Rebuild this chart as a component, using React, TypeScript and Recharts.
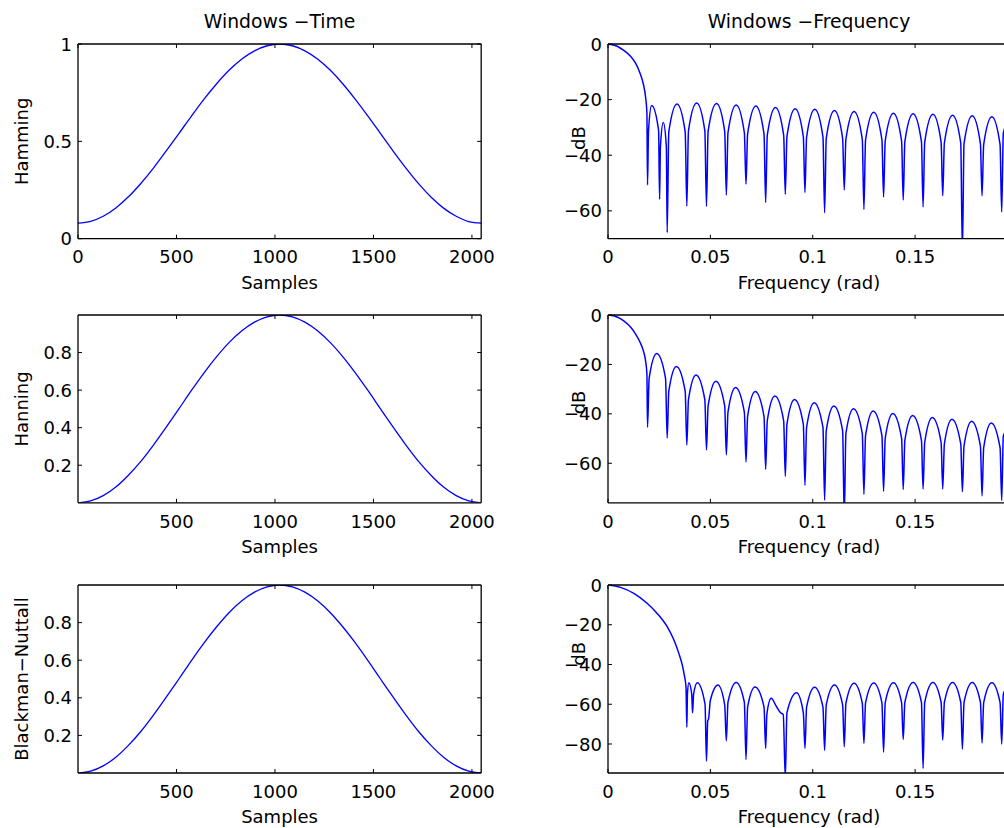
import { LineChart, Line, XAxis, YAxis } from 'recharts';

// ---- time-domain windows (read from the left column) ----
const samples = [
  0, 64, 128, 192, 256, 320, 384, 448, 512, 576, 640, 704, 768, 832, 896, 960, 1024,
  1088, 1152, 1216, 1280, 1344, 1408, 1472, 1536, 1600, 1664, 1728, 1792, 1856, 1920, 1984, 2047,
];
const hamming = [
  0.08, 0.089, 0.115, 0.158, 0.215, 0.285, 0.364, 0.451, 0.54, 0.63, 0.717, 0.796, 0.866, 0.923, 0.965, 0.991, 1.0,
  0.991, 0.965, 0.923, 0.866, 0.796, 0.716, 0.63, 0.54, 0.45, 0.364, 0.284, 0.214, 0.157, 0.115, 0.088, 0.08,
];
const hanning = [
  0, 0.01, 0.038, 0.084, 0.147, 0.222, 0.309, 0.403, 0.5, 0.598, 0.692, 0.778, 0.854, 0.916, 0.962, 0.99, 1.0,
  0.99, 0.962, 0.916, 0.854, 0.778, 0.692, 0.598, 0.5, 0.403, 0.309, 0.222, 0.147, 0.084, 0.038, 0.01, 0,
];
const blackmanNuttall = [
  0, 0.01, 0.038, 0.084, 0.147, 0.222, 0.309, 0.403, 0.5, 0.598, 0.692, 0.778, 0.854, 0.916, 0.962, 0.99, 1.0,
  0.99, 0.962, 0.916, 0.854, 0.778, 0.692, 0.598, 0.5, 0.403, 0.309, 0.222, 0.147, 0.084, 0.038, 0.01, 0,
];

// ---- frequency responses in dB (read from the right column) ----
const hammingFreq = [
  0, 0.0045, 0.0077, 0.011, 0.0134, 0.0156, 0.0172, 0.0183, 0.019, 0.0193,
  0.0198, 0.0213, 0.0247, 0.0252, 0.0256, 0.027, 0.0285, 0.0289,
  0.0297, 0.0337, 0.0377, 0.0385, 0.0393, 0.0433, 0.0473, 0.0481,
  0.0489, 0.053, 0.057, 0.0578, 0.0586, 0.0626, 0.0666, 0.0674,
  0.0682, 0.0722, 0.0762, 0.077, 0.0778, 0.0818, 0.0858, 0.0866,
  0.0874, 0.0914, 0.0954, 0.0962, 0.097, 0.101, 0.105, 0.1058,
  0.1066, 0.1106, 0.1146, 0.1154, 0.1162, 0.1202, 0.1242, 0.125,
  0.1258, 0.1298, 0.1338, 0.1346, 0.1354, 0.1394, 0.1434, 0.1442,
  0.145, 0.149, 0.1531, 0.1539, 0.1547, 0.1587, 0.1627, 0.1635,
  0.1643, 0.1683, 0.1723, 0.1731, 0.1739, 0.1779, 0.1819, 0.1827,
  0.1835, 0.1875, 0.1915, 0.1923, 0.1931, 0.1964,
];
const hammingDb = [
  0, -0.8, -2.3, -4.4, -6.8, -10.4, -14.2, -18.8, -24.7, -50.7,
  -31, -22.1, -31, -55.8, -37, -28.2, -37, -67.8,
  -31.6, -21.6, -31.6, -58.3, -31.2, -21.2, -31.2, -58.4,
  -31.4, -21.4, -31.4, -54.3, -31.9, -21.9, -31.9, -50.4,
  -32.3, -22.3, -32.3, -57.0, -32.8, -22.8, -32.8, -54.0,
  -33.3, -23.3, -33.3, -53.4, -33.5, -23.5, -33.5, -60.7,
  -33.9, -23.9, -33.9, -52.5, -34.3, -24.3, -34.3, -59.5,
  -34.5, -24.5, -34.5, -55.0, -34.9, -24.9, -34.9, -56.1,
  -35.1, -25.1, -35.1, -58.6, -35.3, -25.3, -35.3, -54.6,
  -35.6, -25.6, -35.6, -75, -35.8, -25.8, -35.8, -54.6,
  -36.2, -26.2, -36.2, -60.4, -32, -26.5,
];

const hanningFreq = [
  0, 0.0045, 0.0077, 0.011, 0.0134, 0.0156, 0.0172, 0.0183, 0.019, 0.0193,
  0.0201, 0.0238, 0.0281, 0.0289, 0.0297, 0.0334, 0.0377, 0.0385,
  0.0393, 0.043, 0.0473, 0.0481, 0.0489, 0.0527, 0.057, 0.0578,
  0.0586, 0.0623, 0.0666, 0.0674, 0.0682, 0.0719, 0.0762, 0.077,
  0.0778, 0.0815, 0.0858, 0.0866, 0.0874, 0.0911, 0.0954, 0.0962,
  0.097, 0.1007, 0.105, 0.1058, 0.1066, 0.1103, 0.1146, 0.1154,
  0.1162, 0.1199, 0.1242, 0.125, 0.1258, 0.1295, 0.1338, 0.1346,
  0.1354, 0.1391, 0.1434, 0.1442, 0.145, 0.1488, 0.1531, 0.1539,
  0.1547, 0.1584, 0.1627, 0.1635, 0.1643, 0.168, 0.1723, 0.1731,
  0.1739, 0.1776, 0.1819, 0.1827, 0.1835, 0.1872, 0.1915, 0.1923,
  0.1931, 0.1964,
];
const hanningDb = [
  0, -0.8, -2.4, -4.9, -7.6, -10.9, -14.3, -18.3, -23.7, -45.4,
  -25.6, -15.6, -25.6, -49.8, -30.8, -20.8, -30.8, -52.6,
  -34.3, -24.3, -34.3, -54.6, -36.8, -26.8, -36.8, -56.6,
  -39.3, -29.3, -39.3, -59.5, -41.0, -31.0, -41.0, -62.4,
  -42.8, -32.8, -42.8, -65.3, -44.2, -34.2, -44.2, -68.9,
  -45.5, -35.5, -45.5, -75.0, -46.8, -36.8, -46.8, -82,
  -47.9, -37.9, -47.9, -72.5, -48.8, -38.8, -48.8, -71.3,
  -49.9, -39.9, -49.9, -70.6, -50.7, -40.7, -50.7, -70.4,
  -51.5, -41.5, -51.5, -70.4, -52.2, -42.2, -52.2, -71.5,
  -53.0, -43.0, -53.0, -73.2, -53.7, -43.7, -53.7, -75.1,
  -49, -44.5,
];

const bnFreq = [
  0, 0.0061, 0.0126, 0.0191, 0.024, 0.0289, 0.0322, 0.0346, 0.0363, 0.0374, 0.0381, 0.0385,
  0.0388, 0.0395, 0.0409, 0.0413, 0.0418, 0.0436, 0.0474, 0.0481,
  0.0487, 0.0491, 0.05, 0.0537, 0.057, 0.0578,
  0.0586, 0.0626, 0.0666, 0.0674, 0.0682, 0.0718, 0.0762, 0.077,
  0.0776, 0.0797, 0.0822, 0.0843, 0.0856, 0.0866,
  0.0874, 0.0921, 0.0954, 0.0962, 0.097, 0.1009, 0.105, 0.1058,
  0.1066, 0.1106, 0.1146, 0.1154, 0.1162, 0.1202, 0.1242, 0.125,
  0.1258, 0.1298, 0.1338, 0.1346, 0.1354, 0.1394, 0.1434, 0.1442,
  0.145, 0.149, 0.1531, 0.1539, 0.1547, 0.1587, 0.1627, 0.1635,
  0.1643, 0.1683, 0.1723, 0.1731, 0.1739, 0.1779, 0.1819, 0.1827,
  0.1835, 0.1875, 0.1915, 0.1923, 0.1931, 0.1964,
];
const bnDb = [
  0, -1.2, -4.2, -9.2, -14.3, -21.0, -27.7, -34.4, -40.3, -46.1, -51.2, -71.6,
  -55, -49.2, -55, -64.3, -55, -49.2, -60, -88.6,
  -68.3, -67.5, -58, -50.3, -60.3, -78.4,
  -59.0, -49.0, -59.0, -87.8, -61.3, -51.3, -61.3, -82.2,
  -65, -57.0, -61, -64.3, -65.2, -97,
  -64.2, -54.2, -64.2, -82.2, -61.5, -51.5, -61.5, -83.2,
  -60.3, -50.3, -60.3, -81.4, -59.5, -49.5, -59.5, -79.7,
  -59.3, -49.3, -59.3, -84.1, -59.2, -49.2, -59.2, -77.7,
  -59.0, -49.0, -59.0, -92.3, -59.0, -49.0, -59.0, -78.0,
  -59.0, -49.0, -59.0, -82.6, -59.0, -49.0, -59.0, -79.5,
  -59.2, -49.2, -59.2, -80.0, -55, -49.3,
];

// ---- ticks ----
const sampleTicksFirst = [0, 500, 1000, 1500, 2000];
const sampleTicks = [500, 1000, 1500, 2000];
const freqTicks = [0, 0.05, 0.1, 0.15];
const ampTicksFirst = [0, 0.5, 1];
const ampTicks = [0.2, 0.4, 0.6, 0.8];
const dbTicks = [-60, -40, -20, 0];
const dbTicksDeep = [-80, -60, -40, -20, 0];

const FONT = "'DejaVu Sans', Verdana, sans-serif";
const BLUE = '#0000ff';
const TICK = 4;
const PAD_L = 90;
const PAD_R = 20;
const PAD_T = 40;
const PAD_B = 60;
const AXIS = { stroke: '#000', strokeWidth: 1.3 };
const txt = { fontSize: 18, fontFamily: FONT, fill: '#000' };

const zip = (xs: number[], ys: number[]) => xs.map((x, i) => ({ x, y: ys[i] }));
const fmtNum = (v: number) => (v < 0 ? '\u2212' + String(Math.abs(v)) : String(v));

const bottomTick = (p: any) => (
  <g>
    <line x1={p.x} y1={p.y} x2={p.x} y2={p.y - TICK} stroke="#000" strokeWidth={1} />
    <text x={p.x} y={p.y + 24.8} textAnchor="middle" {...txt}>{fmtNum(p.payload.value)}</text>
  </g>
);
const topTick = (p: any) => (
  <line x1={p.x} y1={p.y} x2={p.x} y2={p.y + TICK} stroke="#000" strokeWidth={1} />
);
const leftTick = (p: any) => (
  <g>
    <line x1={p.x} y1={p.y} x2={p.x + TICK} y2={p.y} stroke="#000" strokeWidth={1} />
    <text x={p.x - 6} y={p.y + 6.6} textAnchor="end" {...txt}>{fmtNum(p.payload.value)}</text>
  </g>
);
const rightTick = (p: any) => (
  <line x1={p.x} y1={p.y} x2={p.x - TICK} y2={p.y} stroke="#000" strokeWidth={1} />
);

interface PanelProps {
  left: number;
  top: number;
  width: number;
  height: number;
  data: { x: number; y: number }[];
  xDomain: [number, number];
  yDomain: [number, number];
  xTicks: number[];
  yTicks: number[];
  xLabel: string;
  yLabel: string;
  yLabelGap: number;
  yLabelAt?: number;
  lineWidth?: number;
  title?: string;
}

const Panel = ({
  left, top, width, height, data, xDomain, yDomain, xTicks, yTicks,
  xLabel, yLabel, yLabelGap, yLabelAt, lineWidth = 1.3, title,
}: PanelProps) => {
  const plotLeft = PAD_L;
  const plotTop = PAD_T;
  const ylx = plotLeft - yLabelGap;
  const yly = yLabelAt !== undefined ? yLabelAt - top + PAD_T : plotTop + height / 2;
  return (
    <div style={{ position: 'absolute', left: left - PAD_L, top: top - PAD_T }}>
      <LineChart
        width={width + PAD_L + PAD_R}
        height={height + PAD_T + PAD_B}
        data={data}
        margin={{ top: PAD_T - 1, right: PAD_R - 1, bottom: 0, left: 0 }}
      >
        <XAxis
          xAxisId="b"
          dataKey="x"
          type="number"
          domain={xDomain}
          allowDataOverflow
          ticks={xTicks}
          interval={0}
          height={PAD_B}
          tickSize={0}
          tickMargin={0}
          tickLine={false}
          axisLine={AXIS}
          tick={bottomTick}
          label={{
            content: () => (
              <text x={plotLeft + width / 2} y={plotTop + height + 50} textAnchor="middle" {...txt}>{xLabel}</text>
            ),
          }}
        />
        <XAxis
          xAxisId="t"
          orientation="top"
          dataKey="x"
          type="number"
          domain={xDomain}
          allowDataOverflow
          ticks={xTicks}
          interval={0}
          height={1}
          tickSize={0}
          tickMargin={0}
          tickLine={false}
          axisLine={AXIS}
          tick={topTick}
          label={{
            content: () =>
              title ? (
                <text x={plotLeft + width / 2} y={plotTop - 16} textAnchor="middle" {...txt} fontSize={18.8}>{title}</text>
              ) : null,
          }}
        />
        <YAxis
          yAxisId="l"
          type="number"
          domain={yDomain}
          allowDataOverflow
          ticks={yTicks}
          interval={0}
          width={PAD_L}
          tickSize={0}
          tickMargin={0}
          tickLine={false}
          axisLine={AXIS}
          tick={leftTick}
          label={{
            content: () => (
              <text x={ylx} y={yly} transform={`rotate(-90 ${ylx} ${yly})`} textAnchor="middle" {...txt}>{yLabel}</text>
            ),
          }}
        />
        <YAxis
          yAxisId="r"
          orientation="right"
          type="number"
          domain={yDomain}
          allowDataOverflow
          ticks={yTicks}
          interval={0}
          width={1}
          tickSize={0}
          tickMargin={0}
          tickLine={false}
          axisLine={AXIS}
          tick={rightTick}
        />
        <Line
          xAxisId="b"
          yAxisId="l"
          dataKey="y"
          type="monotone"
          stroke={BLUE}
          strokeWidth={lineWidth}
          dot={false}
          activeDot={false}
          isAnimationActive={false}
        />
      </LineChart>
    </div>
  );
};

const LEFT_X = 77.8;
const LEFT_W = 403.2;
const RIGHT_X = 607.7;
const RIGHT_W = 402;
const ROWS = [
  { top: 44, height: 194.7 },
  { top: 314.6, height: 187.8 },
  { top: 585.1, height: 188 },
];
const FREQ_DOMAIN: [number, number] = [0, 0.19635];
const SAMPLE_DOMAIN: [number, number] = [0, 2047];

export default function App() {
  return (
    <div style={{ position: 'absolute', left: 0, top: 0, width: 1004, height: 828, overflow: 'hidden', background: '#fff' }}>
      <Panel left={LEFT_X} top={ROWS[0].top} width={LEFT_W} height={ROWS[0].height} data={zip(samples, hamming)}
        xDomain={SAMPLE_DOMAIN} yDomain={[0, 1]} xTicks={sampleTicksFirst} yTicks={ampTicksFirst}
        xLabel="Samples" yLabel="Hamming" yLabelGap={50.3} title={'Windows \u2212Time'} />
      <Panel left={RIGHT_X} top={ROWS[0].top} width={RIGHT_W} height={ROWS[0].height} data={zip(hammingFreq, hammingDb)}
        xDomain={FREQ_DOMAIN} yDomain={[-70, 0]} xTicks={freqTicks} yTicks={dbTicks} lineWidth={1.5}
        xLabel="Frequency (rad)" yLabel="dB" yLabelGap={22.7} yLabelAt={138} title={'Windows \u2212Frequency'} />

      <Panel left={LEFT_X} top={ROWS[1].top} width={LEFT_W} height={ROWS[1].height} data={zip(samples, hanning)}
        xDomain={SAMPLE_DOMAIN} yDomain={[0, 1]} xTicks={sampleTicks} yTicks={ampTicks}
        xLabel="Samples" yLabel="Hanning" yLabelGap={50.3} />
      <Panel left={RIGHT_X} top={ROWS[1].top} width={RIGHT_W} height={ROWS[1].height} data={zip(hanningFreq, hanningDb)}
        xDomain={FREQ_DOMAIN} yDomain={[-76, 0]} xTicks={freqTicks} yTicks={dbTicks} lineWidth={1.5}
        xLabel="Frequency (rad)" yLabel="dB" yLabelGap={22.7} yLabelAt={402} />

      <Panel left={LEFT_X} top={ROWS[2].top} width={LEFT_W} height={ROWS[2].height} data={zip(samples, blackmanNuttall)}
        xDomain={SAMPLE_DOMAIN} yDomain={[0, 1]} xTicks={sampleTicks} yTicks={ampTicks}
        xLabel="Samples" yLabel={'Blackman\u2212Nuttall'} yLabelGap={50.3} />
      <Panel left={RIGHT_X} top={ROWS[2].top} width={RIGHT_W} height={ROWS[2].height} data={zip(bnFreq, bnDb)}
        xDomain={FREQ_DOMAIN} yDomain={[-94.6, 0]} xTicks={freqTicks} yTicks={dbTicksDeep} lineWidth={1.5}
        xLabel="Frequency (rad)" yLabel="dB" yLabelGap={22.7} yLabelAt={654} />
    </div>
  );
}
